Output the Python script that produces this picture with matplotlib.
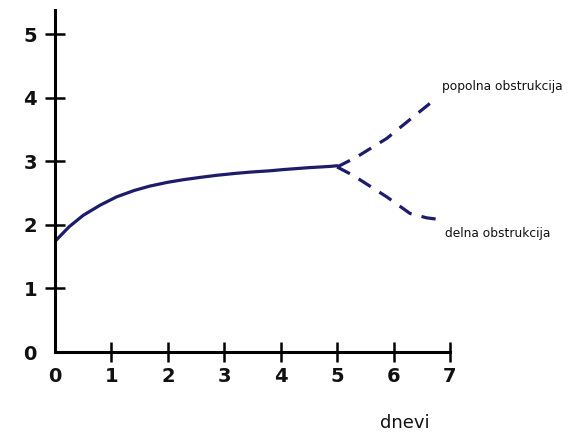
import matplotlib
matplotlib.use("Agg")
import matplotlib.pyplot as plt

# Data
main_x = [0.0, 0.25, 0.5, 0.8, 1.09, 1.4, 1.68, 2.0, 2.27, 2.6, 2.87, 3.2, 3.46, 3.8, 4.05, 4.5, 4.88, 5.0]
main_y = [1.74, 1.97, 2.15, 2.31, 2.44, 2.54, 2.61, 2.67, 2.71, 2.75, 2.78, 2.81, 2.83, 2.85, 2.87, 2.90, 2.92, 2.93]
upper_x = [5.0, 5.35, 5.88, 6.35, 6.77]
upper_y = [2.91, 3.07, 3.36, 3.70, 4.00]
lower_x = [5.0, 5.28, 5.88, 6.29, 6.59, 6.86]
lower_y = [2.91, 2.78, 2.44, 2.18, 2.11, 2.08]
x_ticks = [0, 1, 2, 3, 4, 5, 6, 7]
y_ticks = [0, 1, 2, 3, 4, 5]
label_upper = "popolna obstrukcija"
label_lower = "delna obstrukcija"
x_label = "dnevi"

color = "#1c1c6b"

fig = plt.figure(figsize=(5.68, 4.36), dpi=100)
ax = fig.add_axes([55/568, (436-352)/436, (450-55)/568, (352-10)/436])
ax.plot(main_x, main_y, color=color, lw=2.3, solid_capstyle="round", solid_joinstyle="round")
ax.plot(upper_x, upper_y, color=color, lw=2.3, dashes=(4.5, 3.2))
ax.plot(lower_x, lower_y, color=color, lw=2.3, dashes=(4.5, 3.2))

ax.set_xlim(0, 7)
ax.set_ylim(0, 5.38)
for s in ["top", "right"]:
    ax.spines[s].set_visible(False)
for s in ["left", "bottom"]:
    ax.spines[s].set_linewidth(2.2)
    ax.spines[s].set_color("black")

ax.set_xticks(x_ticks)
ax.set_yticks(y_ticks)
ax.set_xticklabels([str(v) for v in x_ticks], fontsize=14, fontweight="bold", color="#111111")
ax.set_yticklabels([str(v) for v in y_ticks], fontsize=14, fontweight="bold", color="#111111")
ax.tick_params(axis="both", direction="inout", length=14, width=1.8, color="black")
ax.tick_params(axis="x", pad=4)
ax.tick_params(axis="y", pad=6)
ax.xaxis.get_major_ticks()[0].tick1line.set_visible(False)
ax.yaxis.get_major_ticks()[0].tick1line.set_visible(False)

ax.text(6.86, 4.18, label_upper, fontsize=8.8, color="#111111", ha="left", va="center")
ax.text(6.91, 1.87, label_lower, fontsize=8.8, color="#111111", ha="left", va="center")
fig.text(405/568, 1 - 423/436, x_label, fontsize=13, color="#111111", ha="center", va="center")

fig.savefig("out.png", dpi=100)
